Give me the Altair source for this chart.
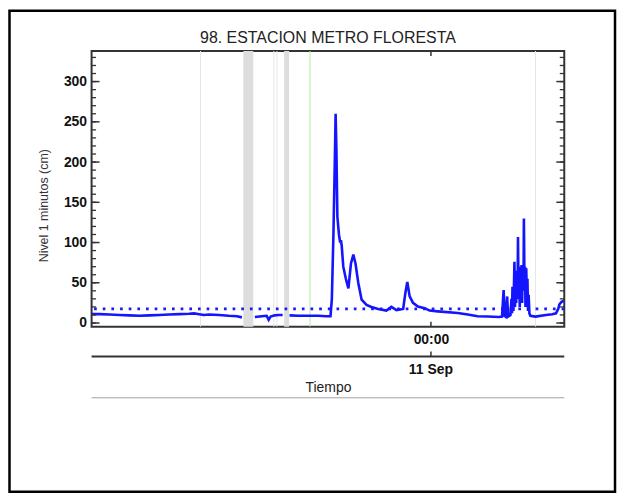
import altair as alt
import pandas as pd

TITLE = "98. ESTACION METRO FLORESTA"
Y_TITLE = "Nivel 1 minutos (cm)"
X_TITLE = "Tiempo"
X_TICK_LABEL = "00:00"
DATE_LABEL = "11 Sep"

# time in hours relative to 11 Sep 00:00; level in cm
seg1_h = [-17.23, -16.83, -16.32, -15.82, -15.31, -14.81, -14.30, -13.79, -13.29,
          -12.78, -12.28, -12.03, -11.77, -11.52, -11.27, -10.76, -10.26, -9.85, -9.60]
seg1_v = [11, 11, 10.5, 10, 9.5, 9, 9.5, 10, 10.5, 11, 11.5, 12, 11, 10, 10.5, 10, 9, 8.5, 7]

seg2_h = [-8.94, -8.59, -8.34, -8.24, -8.14, -7.93, -7.73, -7.53]
seg2_v = [7.5, 8.5, 9, 4, 8, 9.5, 10, 10]

seg3_h = [-7.18, -6.72, -6.21, -5.71, -5.31, -5.10, -5.03, -4.95, -4.87, -4.84, -4.80,
          -4.75, -4.67, -4.61, -4.57, -4.53, -4.45, -4.32, -4.19, -4.06, -3.94, -3.83,
          -3.69, -3.52, -3.27, -3.02, -2.68, -2.26, -2.01, -1.75, -1.41, -1.30, -1.20,
          -1.08, -0.91, -0.66, -0.32, -0.07, 0.35, 1.36, 1.87, 2.37, 2.88, 3.44, 3.61,
          3.69, 3.74, 3.79, 3.87, 3.92, 4.04, 4.09, 4.12, 4.14, 4.19, 4.24, 4.27, 4.30,
          4.33, 4.36, 4.40, 4.42, 4.45, 4.48, 4.51, 4.55, 4.57, 4.60, 4.63, 4.66, 4.70,
          4.72, 4.75, 4.78, 4.80, 4.84, 4.87, 4.90, 4.93, 4.96, 5.00, 5.05, 5.31, 5.84,
          6.16, 6.35, 6.47, 6.52, 6.62, 6.75]
seg3_v = [9.5, 9, 9, 9, 8.5, 8.5, 30, 111, 215, 260, 216,
          132, 110, 100, 103, 96, 70, 55, 43, 74, 85, 74,
          50, 29, 22.5, 20, 17.5, 15.5, 20, 16, 17.5, 37, 51,
          33, 25, 20.5, 18.5, 15.5, 14.5, 12.5, 10.5, 8.5, 8, 7.5, 8,
          41, 9, 8, 33, 8, 10, 30, 12, 45, 15, 76, 20, 55,
          25, 65, 30, 107, 35, 60, 20, 70, 30, 72, 25, 68, 40,
          130, 45, 70, 20, 68, 30, 55, 15, 35, 12, 9, 8, 10,
          11, 12, 18, 23, 26, 28]

threshold = [17.6]

# shaded gaps (no data) and thin marker lines, in hours
band_start = [-9.525, -7.453]
band_end = [-9.020, -7.200]
gray_lines = [-11.70, -7.98, -7.82, 5.31]
green_lines = [-6.14]
midnight = [0.0]

y_major = [0, 50, 100, 150, 200, 250, 300]
y_minor = list(range(0, 340, 10))

W, H = 475, 277

series = pd.DataFrame({
    "h": seg1_h + seg2_h + seg3_h,
    "v": seg1_v + seg2_v + seg3_v,
    "seg": [1] * len(seg1_h) + [2] * len(seg2_h) + [3] * len(seg3_h),
})
bands = pd.DataFrame({"h": band_start, "h2": band_end})
gray_df = pd.DataFrame({"h": gray_lines})
green_df = pd.DataFrame({"h": green_lines})
thr_df = pd.DataFrame({"v": threshold})
mid_df = pd.DataFrame({"h": midnight, "label": [DATE_LABEL]})
major_df = pd.DataFrame({"v": y_major})
minor_df = pd.DataFrame({"v": y_minor})
title_df = pd.DataFrame({"label": [TITLE]})

xscale = alt.Scale(domain=[-17.23, 6.77], nice=False, zero=False)
yscale = alt.Scale(domain=[-4.5, 338], nice=False, zero=False)

x_axis = alt.Axis(
    values=midnight, labelExpr=f"'{X_TICK_LABEL}'", ticks=False, domain=False,
    grid=False, labelFontSize=14, labelFontWeight="bold", labelColor="#111",
    labelPadding=6, title=X_TITLE, titleY=54, titleX=W / 2, titleBaseline="top",
    titleAlign="center", titleFontSize=14, titleFontWeight="normal", titleColor="#222")
y_axis = alt.Axis(
    values=y_major, ticks=False, domain=False, grid=False, labelFontSize=14,
    labelFontWeight="bold", labelColor="#111", labelPadding=5, title=Y_TITLE,
    titleX=-48.5, titleY=155, titleAngle=270, titleAlign="center",
    titleBaseline="middle", titleFontSize=12.5, titleFontWeight="normal",
    titleColor="#333")


def X():
    return alt.X("h:Q", scale=xscale, axis=x_axis, title=X_TITLE)


def Y():
    return alt.Y("v:Q", scale=yscale, axis=y_axis, title=Y_TITLE)


band_layer = alt.Chart(bands).mark_rect(color="#dddddd").encode(x=X(), x2="h2:Q")
gray_layer = alt.Chart(gray_df).mark_rule(color="#e6e6e6", strokeWidth=1).encode(x=X())
green_layer = alt.Chart(green_df).mark_rule(color="#b4ec9c", strokeWidth=1).encode(x=X())
thr_layer = alt.Chart(thr_df).mark_rule(
    color="#1a1aff", strokeWidth=2.7, strokeDash=[2.7, 6], strokeCap="butt"
).encode(y=Y())

line_layer = alt.Chart(series).mark_line(color="#1414ff", strokeWidth=2.6).encode(
    x=X(), y=Y(), detail="seg:N",
)

tick_col = "#333333"
minor_left = alt.Chart(minor_df).mark_rule(color=tick_col, strokeWidth=1.3).encode(
    y=Y(), x=alt.value(0), x2=alt.value(4.5))
minor_right = alt.Chart(minor_df).mark_rule(color=tick_col, strokeWidth=1.3).encode(
    y=Y(), x=alt.value(W - 4.5), x2=alt.value(W))
major_left = alt.Chart(major_df).mark_rule(color=tick_col, strokeWidth=1.5).encode(
    y=Y(), x=alt.value(0), x2=alt.value(8))
major_right = alt.Chart(major_df).mark_rule(color=tick_col, strokeWidth=1.5).encode(
    y=Y(), x=alt.value(W - 8), x2=alt.value(W))
xtick_bottom = alt.Chart(mid_df).mark_rule(color=tick_col, strokeWidth=1.5).encode(
    x=X(), y=alt.value(H - 5), y2=alt.value(H))
xtick_top = alt.Chart(mid_df).mark_rule(color=tick_col, strokeWidth=1.5).encode(
    x=X(), y=alt.value(0), y2=alt.value(5))

axis2_line = alt.Chart(mid_df).mark_rule(color="#333333", strokeWidth=2).encode(
    x=alt.value(0), x2=alt.value(W), y=alt.value(307))
axis2_tick = alt.Chart(mid_df).mark_rule(color=tick_col, strokeWidth=1.5).encode(
    x=X(), y=alt.value(302), y2=alt.value(307))
axis2_label = alt.Chart(mid_df).mark_text(
    fontSize=14, fontWeight="bold", color="#111", baseline="top", align="center"
).encode(x=X(), y=alt.value(313.5), text="label:N")
bottom_rule = alt.Chart(mid_df).mark_rule(color="#a0a0a0", strokeWidth=1).encode(
    x=alt.value(0), x2=alt.value(W), y=alt.value(348.5))

title_layer = alt.Chart(title_df).mark_text(
    fontSize=16, color="#222", baseline="alphabetic", align="center"
).encode(x=alt.value(W / 2), y=alt.value(-8.3), text="label:N")

frame = alt.Chart(title_df).mark_rect(filled=False, stroke="black", strokeWidth=2.5).encode(
    x=alt.value(-82.5), x2=alt.value(526), y=alt.value(-40.5), y2=alt.value(443))

chart = alt.layer(
    band_layer, gray_layer, green_layer, thr_layer, line_layer,
    minor_left, minor_right, major_left, major_right, xtick_bottom, xtick_top,
    axis2_line, axis2_tick, axis2_label, bottom_rule, title_layer, frame,
).properties(
    width=W, height=H,
    autosize=alt.AutoSizeParams(type="none"),
    padding={"left": 84, "top": 42, "right": 54, "bottom": 170},
).configure(font="Liberation Sans").configure_view(stroke="#333333", strokeWidth=2)

chart.save("out.html", embed_options={"renderer": "svg", "actions": False})
